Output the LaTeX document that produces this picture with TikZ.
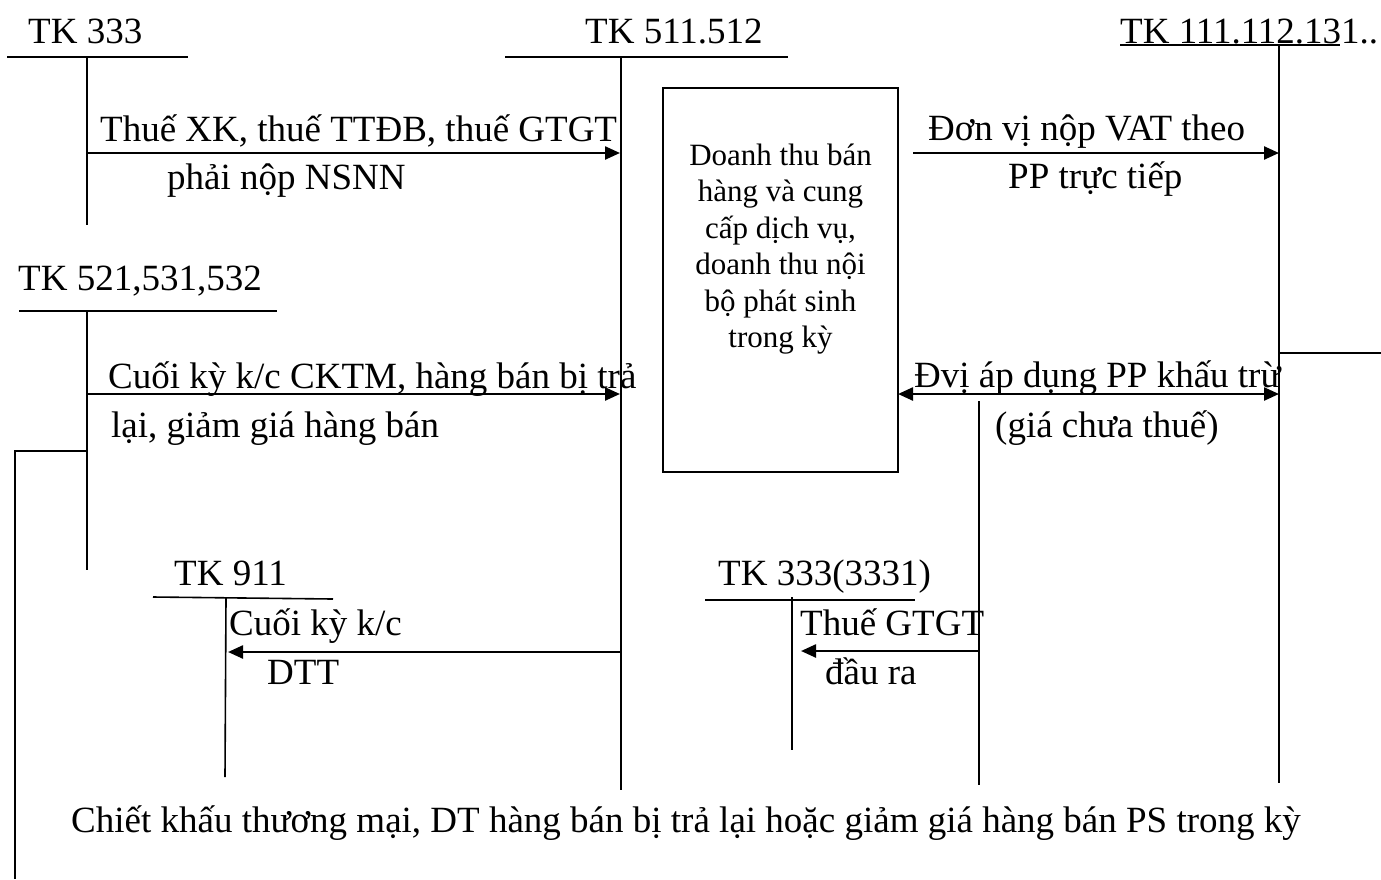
\documentclass[tikz,border=0pt]{standalone}
\usepackage{fontspec}
\setmainfont{Liberation Serif}
\usetikzlibrary{arrows.meta}
\begin{document}
\begin{tikzpicture}[x=1pt,y=-1pt,
  tline/.style={line width=1.6pt},
  flow/.style={line width=2.4pt,-{Triangle[length=15pt,width=13pt]}},
  biflow/.style={line width=2.4pt,{Triangle[length=15pt,width=13pt]}-{Triangle[length=15pt,width=13pt]}},
  lbl/.style={inner sep=0pt,anchor=base west,font=\fontsize{37}{42}\selectfont},
  boxtext/.style={inner sep=0pt,anchor=base,align=center,font=\fontsize{31}{36.5}\selectfont},
  acctbox/.style={draw,line width=1.6pt,minimum width=235pt,minimum height=384pt,inner sep=0pt}]
\useasboundingbox (0,0) rectangle (1381,879);

% --- account titles
\node[lbl] (t333) at (28,43) {TK 333};
\node[lbl] (t511) at (585,43) {TK 511.512};
\node[lbl] (t111) at (1120,43) {TK 111.112.131..};
\node[lbl] (t521) at (18,290) {TK 521,531,532};
\node[lbl] (t911) at (174,585) {TK 911};
\node[lbl] (t3331) at (718,585) {TK 333(3331)};

% --- T-account skeleton coordinates
\coordinate (a333L) at (7,57);   \coordinate (a333R) at (188,57);
\coordinate (a333T) at (87,57);  \coordinate (a333B) at (87,225);
\coordinate (a511L) at (505,57); \coordinate (a511R) at (788,57);
\coordinate (a511T) at (621,57); \coordinate (a511B) at (621,790);
\coordinate (a111L) at (1120,45); \coordinate (a111R) at (1340,45);
\coordinate (a111T) at (1279,45); \coordinate (a111B) at (1279,783);
\coordinate (a111S) at (1279,353); \coordinate (a111E) at (1381,353);
\coordinate (a521L) at (19,311); \coordinate (a521R) at (277,311);
\coordinate (a521T) at (87,311); \coordinate (a521B) at (87,570);
\coordinate (a911L) at (153,597); \coordinate (a911R) at (333,599);
\coordinate (a911T) at (226,598); \coordinate (a911B) at (225,777);
\coordinate (a3331L) at (705,600); \coordinate (a3331R) at (915,600);
\coordinate (a3331T) at (792,597); \coordinate (a3331B) at (792,750);
\coordinate (vatT) at (979,401); \coordinate (vatB) at (979,785);
\coordinate (brA) at (87,451); \coordinate (brB) at (15,451); \coordinate (brC) at (15,879);

\draw[tline] (a333L) -- (a333R) (a333T) -- (a333B);
\draw[tline] (a511L) -- (a511R) (a511T) -- (a511B);
\draw[tline] (a111L) -- (a111R) (a111T) -- (a111B);
\draw[tline] (a111S) -- (a111E);
\draw[tline] (a521L) -- (a521R) (a521T) -- (a521B);
\draw[tline] (a911L) -- (a911R) (a911T) -- (a911B);
\draw[tline] (a3331L) -- (a3331R) (a3331T) -- (a3331B);
\draw[tline] (vatT) -- (vatB);
\draw[tline] (brA) -- (brB) -- (brC);

% --- central box
\node[acctbox] (box) at (780.5,280) {};
\node[boxtext] (boxlbl) at (780.5,347.5) {Doanh thu bán\\hàng và cung\\cấp dịch vụ,\\doanh thu nội\\bộ phát sinh\\trong kỳ};

% --- flows
\coordinate (f1s) at (87,153);  \coordinate (f1e) at (620,153);
\coordinate (f2s) at (87,394);  \coordinate (f2e) at (620,394);
\coordinate (f3s) at (913,153); \coordinate (f3e) at (1279,153);
\coordinate (f4s) at (898,394); \coordinate (f4e) at (1279,394);
\coordinate (f5s) at (621,652); \coordinate (f5e) at (228,652);
\coordinate (f6s) at (979,651); \coordinate (f6e) at (801,651);
\draw[flow] (f1s) -- (f1e);
\draw[flow] (f2s) -- (f2e);
\draw[flow] (f3s) -- (f3e);
\draw[biflow] (f4s) -- (f4e);
\draw[flow] (f5s) -- (f5e);
\draw[flow] (f6s) -- (f6e);

% --- flow labels
\node[lbl] (l1a) at (100,141) {Thuế XK, thuế TTĐB, thuế GTGT};
\node[lbl] (l1b) at (167,189) {phải nộp NSNN};
\node[lbl] (l3a) at (928,140) {Đơn vị nộp VAT theo};
\node[lbl] (l3b) at (1008,188) {PP trực tiếp};
\node[lbl] (l2a) at (108,388) {Cuối kỳ k/c CKTM, hàng bán bị trả};
\node[lbl] (l2b) at (111,437) {lại, giảm giá hàng bán};
\node[lbl] (l4a) at (914,387) {Đvị áp dụng PP khấu trừ};
\node[lbl] (l4b) at (995,437) {(giá chưa thuế)};
\node[lbl] (l5a) at (229,635) {Cuối kỳ k/c};
\node[lbl] (l5b) at (267,684) {DTT};
\node[lbl] (l6a) at (800,635) {Thuế GTGT};
\node[lbl] (l6b) at (825,684) {đầu ra};
\node[lbl] (bottom) at (71,832) {Chiết khấu thương mại, DT hàng bán bị trả lại hoặc giảm giá hàng bán PS trong kỳ};
\end{tikzpicture}
\end{document}
